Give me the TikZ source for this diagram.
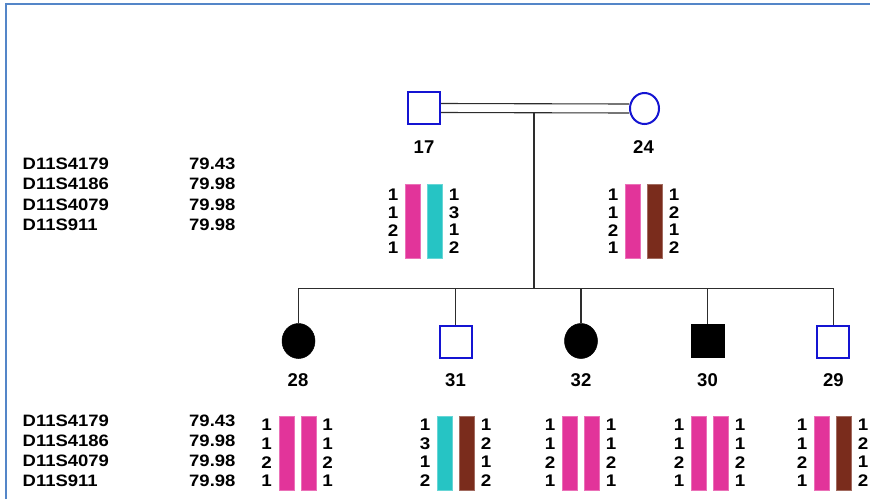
\documentclass[tikz,border=0pt]{standalone}
\usepackage{fontspec}
\setmainfont{Liberation Sans}
\newfontfamily\mkfont{Liberation Sans}[FakeStretch=1.12]
\usetikzlibrary{shapes.geometric}
\definecolor{frameblue}{RGB}{84,134,200}
\definecolor{symblue}{RGB}{20,20,210}
\definecolor{hpink}{RGB}{226,52,154}
\definecolor{hteal}{RGB}{38,196,196}
\definecolor{hbrown}{RGB}{122,44,28}
\definecolor{linegray}{RGB}{45,45,45}
% #1 name, #2 x of first bar centre, #3 bar centre y, #4 colour 1, #5 colour 2,
% #6 left list, #7 right list, #8 first row y, #9 row step
\newcommand\hapset[9]{%
  \node[hbar, fill=#4, draw=#4!70!white] (#1a) at (#2,#3) {};
  \node[hbar, fill=#5, draw=#5!70!white] (#1b) at ({#2+22},#3) {};
  \foreach \v [count=\i] in {#6} \node[num] (#1l\i) at ({#2-20},{#8+(\i-1)*#9}) {\v};
  \foreach \v [count=\i] in {#7} \node[num] (#1r\i) at ({#2+41},{#8+(\i-1)*#9}) {\v};
}
\begin{document}
\begin{tikzpicture}[x=1pt,y=-1pt,
  male/.style={draw=symblue, line width=2pt, rectangle, minimum size=32pt, inner sep=0pt, fill=white},
  female/.style={draw=symblue, line width=2pt, ellipse, minimum width=29pt, minimum height=31pt, inner sep=0pt, fill=white},
  affmale/.style={rectangle, fill=black, draw=black, line width=0.5pt, minimum size=33pt, inner sep=0pt},
  afffemale/.style={ellipse, fill=black, draw=black, line width=0.5pt, minimum width=33pt, minimum height=35pt, inner sep=0pt},
  idlab/.style={font=\fontsize{18.5}{18.5}\selectfont\bfseries, inner sep=0pt},
  mk/.style={font=\mkfont\fontsize{16.5}{16.5}\selectfont\bfseries, anchor=west, inner sep=0pt},
  num/.style={font=\mkfont\fontsize{16.8}{16.8}\selectfont\bfseries, inner sep=0pt},
  hbar/.style={rectangle, inner sep=0pt, minimum width=15.4pt, minimum height=74.4pt, line width=0.6pt},
  link/.style={draw=linegray, line width=1.1pt}
]
\useasboundingbox (0,0) rectangle (870,499);
\fill[white] (0,0) rectangle (870,499);
% frame
\draw[frameblue, line width=2.2pt] (6,499) -- (6,4) -- (870,4);

% parents
\node[male] (p17) at (424,108) {};
\node[female] (p24) at (644.5,108.5) {};
\node[idlab] (l17) at (424,147) {17};
\node[idlab] (l24) at (643.5,147) {24};

% children
\node[afffemale] (c28) at (298.5,341) {};
\node[male] (c31) at (455.5,341.5) {};
\node[afffemale] (c32) at (581,341) {};
\node[affmale] (c30) at (707.5,341) {};
\node[male] (c29) at (833.3,341.5) {};
\node[idlab] (l28) at (298,380) {28};
\node[idlab] (l31) at (455.5,380) {31};
\node[idlab] (l32) at (581,380) {32};
\node[idlab] (l30) at (707.5,380) {30};
\node[idlab] (l29) at (833.3,380) {29};

% connectors
\draw[link] ([yshift=4.5pt]p17.east) -- ([yshift=4.5pt]p24.west);
\draw[link] ([yshift=-4.5pt]p17.east) -- ([yshift=-4.5pt]p24.west);
\coordinate (m) at (534,112.5);
\coordinate (s) at (534,288.5);
\draw[link] (m) -- (s);
\draw[link] (c28.north) -- (c28.north |- s) -- (c29.north |- s) -- (c29.north);
\draw[link] (c31.north) -- (c31.north |- s);
\draw[link] (c32.north) -- (c32.north |- s);
\draw[link] (c30.north) -- (c30.north |- s);

% marker tables
\foreach \n/\d [count=\i] in {D11S4179/79.43, D11S4186/79.98, D11S4079/79.98, D11S911/79.98} {
  \node[mk] (tn\i) at (22.5,{163.5+(\i-1)*20.5}) {\n};
  \node[mk] (tv\i) at (189,{163.5+(\i-1)*20.5}) {\d};
  \node[mk] (bn\i) at (22.5,{420.5+(\i-1)*20.2}) {\n};
  \node[mk] (bv\i) at (189,{420.5+(\i-1)*20.2}) {\d};
}

% haplotypes
\hapset{h17}{413}{221.5}{hpink}{hteal}{1,1,2,1}{1,3,1,2}{195}{17.6}
\hapset{h24}{633}{221.5}{hpink}{hbrown}{1,1,2,1}{1,2,1,2}{195}{17.6}
\hapset{h28}{286.5}{453.5}{hpink}{hpink}{1,1,2,1}{1,1,2,1}{425}{18.6}
\hapset{h31}{445}{453.5}{hteal}{hbrown}{1,3,1,2}{1,2,1,2}{425}{18.6}
\hapset{h32}{570}{453.5}{hpink}{hpink}{1,1,2,1}{1,1,2,1}{425}{18.6}
\hapset{h30}{699}{453.5}{hpink}{hpink}{1,1,2,1}{1,1,2,1}{425}{18.6}
\hapset{h29}{822}{453.5}{hpink}{hbrown}{1,1,2,1}{1,2,1,2}{425}{18.6}
\end{tikzpicture}
\end{document}
